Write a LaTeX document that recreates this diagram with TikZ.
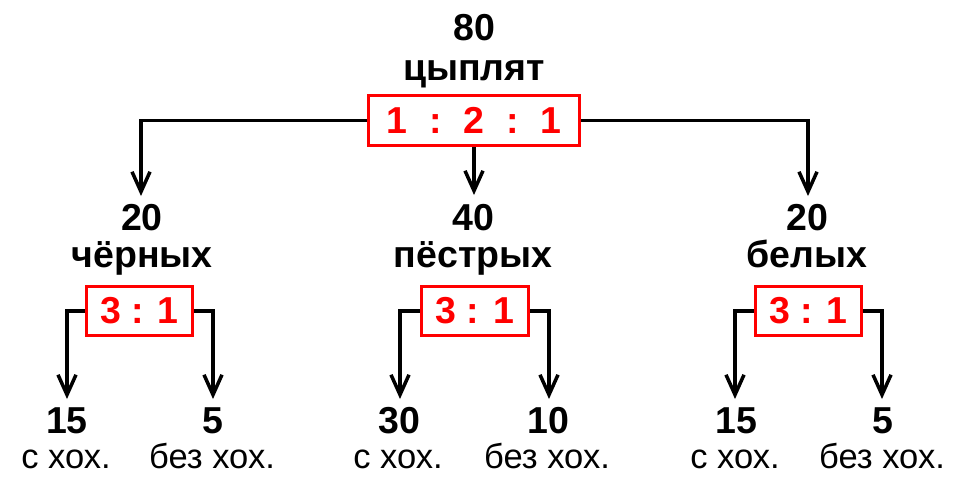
\documentclass[tikz,border=0pt]{standalone}
\usepackage{fontspec}
\setmainfont{Liberation Sans}
\usetikzlibrary{arrows.meta}
\begin{document}
\begin{tikzpicture}[x=1pt,y=-1pt,
  big/.style={font=\fontsize{37.5}{37.5}\selectfont\bfseries, inner sep=0pt, anchor=base},
  small/.style={font=\fontsize{34.5}{34.5}\selectfont, inner sep=0pt, anchor=base},
  ratio/.style={draw=red, line width=3.5pt, text=red, font=\fontsize{37.5}{37.5}\selectfont\bfseries, inner sep=0pt, minimum height=49pt},
  conn/.style={line width=3.5pt, -{Straight Barb[length=20pt,width=18pt,line width=3.5pt]}}]
\useasboundingbox (0,0) rectangle (960,501);
% top
\node[big] (t80) at (474,40) {80};
\node[big] (tlab) at (474,80) {цыплят};
\node[ratio, minimum width=211pt, minimum height=50pt] (top) at (474,120.5) {1\hspace{22pt}:\hspace{22pt}2\hspace{22pt}:\hspace{22pt}1};
% middle labels
\node[big] (n20a) at (142,230) {20};
\node[big] (labA) at (142,267) {чёрных};
\node[big] (n40) at (473,230) {40};
\node[big] (labB) at (473,267) {пёстрых};
\node[big] (n20c) at (807,230) {20};
\node[big] (labC) at (807,267) {белых};
\coordinate (tA) at (141,196);
\coordinate (tB) at (474,195);
\coordinate (tC) at (808,196);
\draw[conn] (top.west) -| (tA);
\draw[conn] (top.south) -- (tB);
\draw[conn] (top.east) -| (tC);
% ratio boxes
\node[ratio, minimum width=106pt] (rA) at (139.5,311) {3 : 1};
\node[ratio, minimum width=107pt] (rB) at (475,311) {3 : 1};
\node[ratio, minimum width=106pt] (rC) at (808.5,311) {3 : 1};
\coordinate (aL) at (67,399);
\coordinate (aR) at (213,399);
\coordinate (bL) at (400,399);
\coordinate (bR) at (549,399);
\coordinate (cL) at (735,399);
\coordinate (cR) at (882,399);
\draw[conn] (rA.west) -| (aL);
\draw[conn] (rA.east) -| (aR);
\draw[conn] (rB.west) -| (bL);
\draw[conn] (rB.east) -| (bR);
\draw[conn] (rC.west) -| (cL);
\draw[conn] (rC.east) -| (cR);
% bottom labels
\node[big] (a15) at (67,433) {15};
\node[small] (a15t) at (66,468) {с хох.};
\node[big] (a5) at (213,433) {5};
\node[small] (a5t) at (212,468) {без хох.};
\node[big] (b30) at (399,433) {30};
\node[small] (b30t) at (398,468) {с хох.};
\node[big] (b10) at (548,433) {10};
\node[small] (b10t) at (547,468) {без хох.};
\node[big] (c15) at (736,433) {15};
\node[small] (c15t) at (735,468) {с хох.};
\node[big] (c5) at (883,433) {5};
\node[small] (c5t) at (882,468) {без хох.};
\end{tikzpicture}
\end{document}
